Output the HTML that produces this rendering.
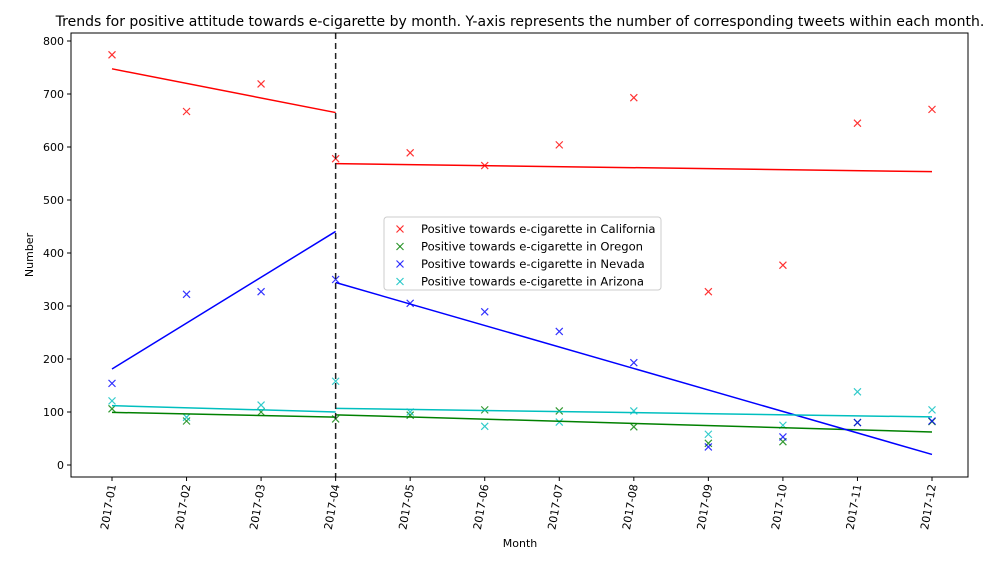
<!DOCTYPE html>
<html><head><meta charset="utf-8"><style>
body{margin:0;background:#fff;}
svg text{font-family:"DejaVu Sans","Liberation Sans",sans-serif;fill:#000;}
</style></head><body>
<svg id="chart" width="1007" height="566" xmlns="http://www.w3.org/2000/svg"></svg>
<script>
const months = ["2017-01","2017-02","2017-03","2017-04","2017-05","2017-06","2017-07","2017-08","2017-09","2017-10","2017-11","2017-12"];
const california = [774,667,719,578,589,565,604,693,327,377,645,671];
const oregon = [106,83,100,87,94,104,102,72,41,44,80,82];
const nevada = [154,322,327,350,305,289,252,193,34,53,80,83];
const arizona = [121,90,113,158,100,73,81,102,58,75,138,104];
const yTicks = [0,100,200,300,400,500,600,700,800];
const breakIndex = 3;

const svg = document.getElementById('chart');
const NS = 'http://www.w3.org/2000/svg';
const L=71,R=968,T=33,B=477;
const x0=112, dx=(932-112)/11;
function xs(i){return x0+i*dx;}
function ys(v){return 465-v*0.53;}
function mk(tag,attrs,parent){const e=document.createElementNS(NS,tag);for(const k in attrs)e.setAttribute(k,attrs[k]);(parent||svg).appendChild(e);return e;}

let t=mk('text',{x:520,y:26,'text-anchor':'middle','font-size':14});
t.textContent='Trends for positive attitude towards e-cigarette by month. Y-axis represents the number of corresponding tweets within each month.';



const series=[
 {name:'California',data:california,color:'#ff0000'},
 {name:'Oregon',data:oregon,color:'#008000'},
 {name:'Nevada',data:nevada,color:'#0000ff'},
 {name:'Arizona',data:arizona,color:'#00bfbf'}
];
function fit(data,a,b){let n=b-a+1,mx=0,my=0;for(let i=a;i<=b;i++){mx+=i;my+=data[i];}mx/=n;my/=n;let sxy=0,sxx=0;for(let i=a;i<=b;i++){sxy+=(i-mx)*(data[i]-my);sxx+=(i-mx)*(i-mx);}const s=sxy/sxx;return x=>my+s*(x-mx);}

series.forEach(s=>{
 s.data.forEach((v,i)=>{
  const g=mk('g',{stroke:s.color,'stroke-width':1.2,opacity:0.8});
  
  
  const cx=xs(i),cy=ys(v),r=3.5;
  mk('line',{x1:cx-r,y1:cy-r,x2:cx+r,y2:cy+r},g);
  mk('line',{x1:cx-r,y1:cy+r,x2:cx+r,y2:cy-r},g);
 });
});
series.forEach(s=>{
 const f1=fit(s.data,0,breakIndex-1), f2=fit(s.data,breakIndex,s.data.length-1);
 let l1=mk('line',{x1:xs(0),y1:ys(f1(0)),x2:xs(breakIndex),y2:ys(f1(breakIndex)),stroke:s.color,'stroke-width':1.5});
 
 
 const e=s.data.length-1;
 let l2=mk('line',{x1:xs(breakIndex),y1:ys(f2(breakIndex)),x2:xs(e),y2:ys(f2(e)),stroke:s.color,'stroke-width':1.5});
 
 
});
let vl=mk('line',{x1:xs(breakIndex),y1:T,x2:xs(breakIndex),y2:B,stroke:'#222','stroke-width':1.5,'stroke-dasharray':'6,4'});



let box=mk('rect',{x:L,y:T,width:R-L,height:B-T,fill:'none',stroke:'#000','stroke-width':1});



yTicks.forEach(v=>{
 mk('line',{x1:L-4,y1:ys(v),x2:L,y2:ys(v),stroke:'#000'});
 let tt=mk('text',{x:L-7,y:ys(v)+4,'text-anchor':'end','font-size':11});
 tt.textContent=v;
 
 
});
months.forEach((m,i)=>{
 mk('line',{x1:xs(i),y1:B,x2:xs(i),y2:B+4,stroke:'#000'});
 let tt=mk('text',{x:0,y:0,'text-anchor':'end','font-size':11,transform:`translate(${xs(i)+4},${B+8}) rotate(-80)`});
 tt.textContent=m;
 
 
});
let xt=mk('text',{x:520,y:547,'text-anchor':'middle','font-size':11});
xt.textContent='Month';


let yt=mk('text',{x:0,y:0,'text-anchor':'middle','font-size':11,transform:'translate(33,255) rotate(-90)'});
yt.textContent='Number';



const lg=mk('g',{});


mk('rect',{x:384,y:217,width:277,height:73,rx:3,fill:'#fff',stroke:'#ccc','fill-opacity':0.85},lg);
series.forEach((s,k)=>{
 const g=mk('g',{},lg);
 
 
 const cy=229+k*17.5,cx=400;
 mk('line',{x1:cx-3.5,y1:cy-3.5,x2:cx+3.5,y2:cy+3.5,stroke:s.color,'stroke-width':1.2,opacity:0.8},g);
 mk('line',{x1:cx-3.5,y1:cy+3.5,x2:cx+3.5,y2:cy-3.5,stroke:s.color,'stroke-width':1.2,opacity:0.8},g);
 const tx=mk('text',{x:421,y:cy+4,'font-size':11.6},g);
 tx.textContent='Positive towards e-cigarette in '+s.name;
});
</script>
</body></html>
